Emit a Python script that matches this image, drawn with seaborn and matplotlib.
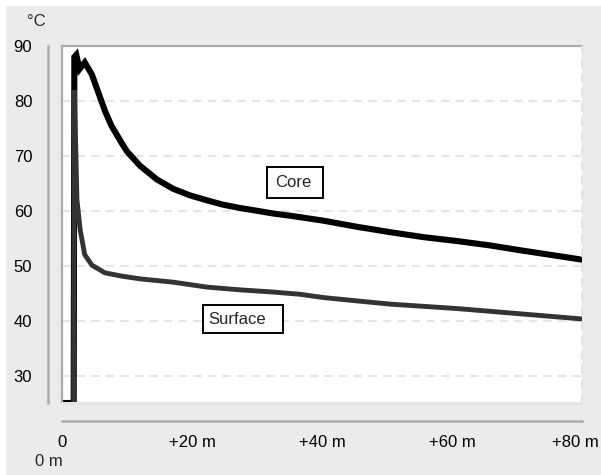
import matplotlib
matplotlib.use("Agg")
import matplotlib.pyplot as plt
import matplotlib.transforms as mtransforms
from matplotlib.patches import Rectangle
from matplotlib.ticker import MultipleLocator, FixedLocator, FixedFormatter
import numpy as np
import pandas as pd
import seaborn as sns

# Temperature readings (minutes elapsed, degrees C)
core_minutes = [0, 1.8, 1.9, 2.2, 2.7, 3.5, 4.6, 5.6, 6.6, 7.6, 9.2, 10.0, 12.0,
                14.6, 17.1, 19.7, 22.3, 24.8, 27.4, 30.0, 32.5, 35.1, 40.2,
                45.3, 50.5, 55.6, 60.7, 65.8, 70.0, 75.0, 80.0]
core_temp = [25.0, 25.0, 88.0, 88.4, 85.8, 87.0, 84.8, 81.5, 78.2, 75.5, 72.3,
             70.8, 68.2, 65.7, 64.0, 62.8, 61.9, 61.1, 60.5, 60.0, 59.5, 59.1,
             58.2, 57.1, 56.1, 55.2, 54.5, 53.7, 52.9, 52.0, 51.1]

surface_minutes = [0, 1.8, 1.9, 2.3, 2.8, 3.5, 4.6, 6.6, 9.2, 12.0, 17.1, 22.3,
                   27.4, 32.5, 36.6, 40.2, 45.3, 50.5, 55.6, 60.7, 65.8, 80.0]
surface_temp = [24.0, 24.0, 82.0, 62.0, 56.5, 52.0, 50.1, 48.7, 48.1, 47.6, 47.0,
                46.1, 45.6, 45.2, 44.8, 44.2, 43.6, 43.0, 42.6, 42.2, 41.7, 40.3]

x_ticks = [0, 20, 40, 60, 80]
x_tick_labels = ["0", "+20 m", "+40 m", "+60 m", "+80 m"]
y_ticks = [30, 40, 50, 60, 70, 80, 90]

core = pd.DataFrame({"minutes": core_minutes, "temp": core_temp})
surface = pd.DataFrame({"minutes": surface_minutes, "temp": surface_temp})

sns.set_style("white")
plt.rcParams["font.family"] = ["Liberation Sans", "DejaVu Sans"]
plt.rcParams["font.size"] = 12

W, H = 601, 475
fig = plt.figure(figsize=(W / 100, H / 100), dpi=100)
fig.patch.set_facecolor("white")
fig.patches.append(Rectangle((6 / W, 0), 1, 1 - 6 / H, transform=fig.transFigure,
                             facecolor="#ebebeb", edgecolor="none", zorder=-10))

ax = fig.add_axes([62 / W, 1 - 403 / H, 520 / W, 357 / H])
ax.set_facecolor("white")

sns.lineplot(data=core, x="minutes", y="temp", ax=ax, color="black",
             linewidth=4.4, estimator=None, zorder=3, solid_joinstyle="miter")
sns.lineplot(data=surface, x="minutes", y="temp", ax=ax, color="#333333",
             linewidth=3.5, estimator=None, zorder=4, solid_joinstyle="miter")

ax.set_xlim(0, 80)
ax.set_ylim(25, 90)
ax.set_xlabel("")
ax.set_ylabel("")

# horizontal dashed grid
for v in y_ticks[:-1]:
    ax.axhline(v, color="#e4e4e4", lw=1.5, dashes=(4, 3), zorder=1)

# plot-area frame
frame_dark = "#a9a9a9"
ax.plot([0, 1], [1, 1], transform=ax.transAxes, color=frame_dark, lw=1.6,
        clip_on=False, zorder=5)
ax.plot([0, 0], [0, 1], transform=ax.transAxes, color=frame_dark, lw=1.6,
        clip_on=False, zorder=5)
ax.plot([1, 1], [0, 1], transform=ax.transAxes, color="#e2e2e2", lw=1.5,
        dashes=(4, 3), clip_on=False, zorder=5)
ax.plot([0, 1], [0, 0], transform=ax.transAxes, color="#e4e4e4", lw=2.2,
        clip_on=False, zorder=5)

# detached axis lines
for side in ("top", "right"):
    ax.spines[side].set_visible(False)
axis_grey = "#adadad"
ax.spines["left"].set_position(("outward", 10.1))
ax.spines["bottom"].set_position(("outward", 13.0))
for side in ("left", "bottom"):
    ax.spines[side].set_color(axis_grey)
    ax.spines[side].set_linewidth(1.8)

ax.yaxis.set_major_locator(FixedLocator(y_ticks))
ax.yaxis.set_minor_locator(MultipleLocator(2))
ax.xaxis.set_major_locator(FixedLocator(x_ticks))
ax.xaxis.set_major_formatter(FixedFormatter(x_tick_labels))
ax.xaxis.set_minor_locator(MultipleLocator(5))

ax.tick_params(axis="y", which="major", direction="out", length=5.8, width=1.4,
               color=axis_grey, pad=5.5, labelsize=12, labelcolor="black")
ax.tick_params(axis="y", which="minor", direction="out", length=3.2, width=1.4,
               color=axis_grey)
ax.tick_params(axis="x", which="major", direction="out", length=3.5, width=1.4,
               color=axis_grey, pad=6.5, labelsize=12, labelcolor="black")
ax.tick_params(axis="x", which="minor", direction="out", length=2.0, width=1.4,
               color=axis_grey)

# keep the last time label inside the figure edge
fig.canvas.draw()
last = ax.get_xticklabels()[-1]
last.set_transform(last.get_transform() +
                   mtransforms.ScaledTranslation(-7 / 100, 0, fig.dpi_scale_trans))

# unit captions
ax.annotate("°C", xy=(0, 1), xycoords="axes fraction", xytext=(-26, 24),
            textcoords="offset pixels", ha="center", va="center", fontsize=12)
ax.annotate("0 m", xy=(0, 0), xycoords=("data", "axes fraction"),
            xytext=(1, -59), textcoords="offset pixels", ha="right",
            va="center", fontsize=12)

# series labels in boxes
def boxed_label(text, x0, x1, y0, y1, tx, ty):
    ax.add_patch(Rectangle((x0, y0), x1 - x0, y1 - y0, facecolor="#fdfdfd",
                           edgecolor="black", lw=1.4, zorder=6))
    ax.text(tx, ty, text, ha="left", va="center", fontsize=12, zorder=7)

boxed_label("Core", 31.54, 40.15, 62.33, 67.97, 32.8, 65.2)
boxed_label("Surface", 21.69, 34.0, 37.75, 42.84, 22.5, 40.2)

fig.savefig("out.png", dpi=100, facecolor=fig.get_facecolor())
